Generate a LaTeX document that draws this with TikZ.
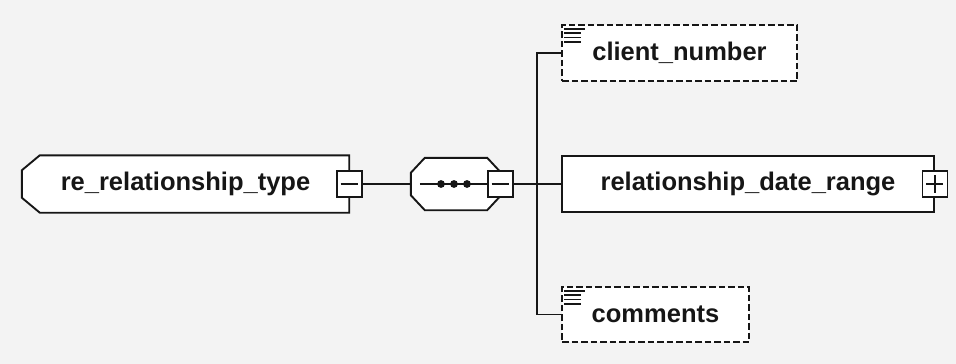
\documentclass[tikz,border=0pt]{standalone}
\usepackage{fontspec}
\setmainfont{Liberation Sans}
\usetikzlibrary{backgrounds}
\definecolor{canvas}{RGB}{243,243,243}
\definecolor{ink}{RGB}{22,22,22}
\tikzset{
  elem/.style={draw=ink, line width=1.9pt, fill=white, inner sep=0pt,
              font=\fontsize{25.5}{30}\selectfont\bfseries, text=ink},
  optelem/.style={elem, dash pattern=on 6.5pt off 3pt},
  group/.style={inner sep=0pt, font=\fontsize{25.5}{30}\selectfont\bfseries, text=ink},
  toggle/.style={draw=ink, line width=1.9pt, fill=white, inner sep=0pt,
              minimum width=25pt, minimum height=26pt},
  minus/.style={toggle, path picture={
      \draw[ink, line width=1.6pt] ([xshift=4pt]path picture bounding box.west) -- ([xshift=-4pt]path picture bounding box.east);}},
  plus/.style={toggle, path picture={
      \draw[ink, line width=1.6pt] ([xshift=4pt]path picture bounding box.west) -- ([xshift=-4pt]path picture bounding box.east);
      \draw[ink, line width=1.6pt] ([yshift=-4pt]path picture bounding box.north) -- ([yshift=4pt]path picture bounding box.south);}},
  link/.style={ink, line width=1.9pt},
}
% little documentation mark in the top left corner of a box
\newcommand{\docmark}[1]{%
  \draw[ink, line width=1.7pt] ([xshift=3pt,yshift=-5pt]#1.north west) -- ++(21,0);
  \foreach \k in {1,2,3}
    \draw[ink, line width=1.7pt] ([xshift=3pt,yshift={-5-4.2*\k}]#1.north west) -- ++(17,0);
}

\begin{document}
\begin{tikzpicture}[x=1pt, y=-1pt]
  \useasboundingbox (0,0) rectangle (956,364);
  \begin{scope}[on background layer]
    \fill[canvas] (0,0) rectangle (956,364);
  \end{scope}

  % root element
  \node[group, minimum width=327pt, minimum height=57pt] (root) at (185.5,184) {re\_relationship\_type};
  \begin{scope}[on background layer]
    \filldraw[link, fill=white] ([xshift=18pt]root.north west) -- (root.north east) -- (root.south east)
      -- ([xshift=18pt]root.south west) -- ([yshift=15pt]root.south west) -- ([yshift=-15pt]root.north west) -- cycle;
  \end{scope}
  \node[minus] (rootx) at (root.east) {};

  % sequence compositor
  \node[group, minimum width=89pt, minimum height=52pt] (seq) at (455.5,184) {};
  \begin{scope}[on background layer]
    \filldraw[link, fill=white] ([xshift=14pt]seq.north west) -- ([xshift=-13pt]seq.north east)
      -- ([yshift=-14pt]seq.north east) -- ([yshift=14pt]seq.south east) -- ([xshift=-13pt]seq.south east)
      -- ([xshift=14pt]seq.south west) -- ([yshift=15pt]seq.south west) -- ([yshift=-15pt]seq.north west) -- cycle;
  \end{scope}
  \node[minus] (seqx) at (seq.east) {};
  \draw[link] ([xshift=9pt]seq.west) -- (seqx.west);
  \foreach \d in {-14.5,-1.5,11.5}
    \fill[ink] ([xshift=\d]seq.center) circle (3.9pt);

  % children
  \node[optelem, minimum width=235pt, minimum height=56pt] (client) at (679.5,53) {client\_number};
  \docmark{client}
  \node[elem, minimum width=372pt, minimum height=56pt] (date) at (748,184) {relationship\_date\_range};
  \node[plus] (datex) at (date.east) {};
  \node[optelem, minimum width=187pt, minimum height=55pt] (comments) at (655.5,314.5) {comments};
  \docmark{comments}

  % connectors
  \coordinate (bus) at (537,184);
  \draw[link] (rootx.east) -- (seq.west);
  \draw[link] (seqx.east) -- (date.west);
  \draw[link] (bus) |- (client.west);
  \draw[link] (bus) |- (comments.west);
\end{tikzpicture}
\end{document}
